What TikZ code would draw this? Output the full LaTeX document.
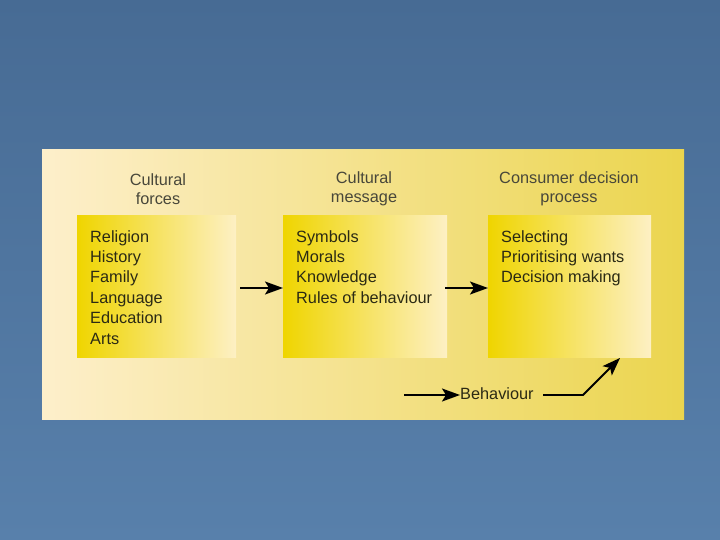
\documentclass[tikz,border=0pt]{standalone}
\usepackage{fontspec}
\setmainfont{Liberation Sans}
\usetikzlibrary{arrows.meta}
\definecolor{bgtop}{HTML}{476B94}
\definecolor{bgbot}{HTML}{5880AB}
\definecolor{panL}{HTML}{FDEFCB}
\definecolor{panM}{HTML}{FBE3A2}
\definecolor{panR}{HTML}{EBD54E}
\definecolor{boxL}{HTML}{EFD500}
\definecolor{boxM}{HTML}{F8E58A}
\definecolor{boxR}{HTML}{FDF0C4}
\definecolor{txt}{HTML}{2B2A14}
\definecolor{head}{HTML}{48473A}
\tikzset{
  listbox/.style={minimum width=159pt, minimum height=142pt, anchor=north west, inner sep=0pt,
    left color=boxL, middle color=boxM, right color=boxR, draw=none},
  listtext/.style={anchor=north west, inner sep=0pt, align=left, text=txt,
    font=\fontsize{16.3}{20.4}\selectfont},
  headtext/.style={align=center, inner sep=0pt, text=head, font=\fontsize{16.3}{19}\selectfont},
  arr/.style={-{Stealth[length=18pt,width=13pt,inset=4pt]}, line width=1.8pt, black}
}
\begin{document}
\begin{tikzpicture}[x=1pt,y=-1pt]
\useasboundingbox (0,0) rectangle (720,540);
\shade[top color=bgtop, bottom color=bgbot] (0,0) rectangle (720,540);
\shade[left color=panL, middle color=panM, right color=panR] (42,150) rectangle (684,419);
\node[listbox] (b1) at (77,215) {};
\node[listbox, minimum width=164pt] (b2) at (283,215) {};
\node[listbox, minimum width=163pt] (b3) at (488,215) {};
\node[headtext] (h1) at (158,189) {Cultural\\forces};
\node[headtext] (h2) at (364,189) {Cultural\\message};
\node[headtext] (h3) at (569,189) {Consumer decision\\process};
\node[listtext] (t1) at (90,230) {Religion\\History\\Family\\Language\\Education\\Arts};
\node[listtext] (t2) at (296,230) {Symbols\\Morals\\Knowledge\\Rules of behaviour};
\node[listtext] (t3) at (501,230) {Selecting\\Prioritising wants\\Decision making};
\node[headtext, text=txt, anchor=west] (beh) at (460,394) {Behaviour};
\coordinate (a1s) at (240,288);
\coordinate (a2s) at (445,288);
\coordinate (bs) at (404,395);
\coordinate (bk) at (583,395);
\coordinate (bt) at (620,358);
\draw[arr] (a1s) -- (a1s -| b2.west);
\draw[arr] (a2s) -- (a2s -| b3.west);
\draw[arr] (bs) -- (bs -| beh.west);
\draw[arr] (543,395) -- (bk) -- (bt);
\end{tikzpicture}
\end{document}
